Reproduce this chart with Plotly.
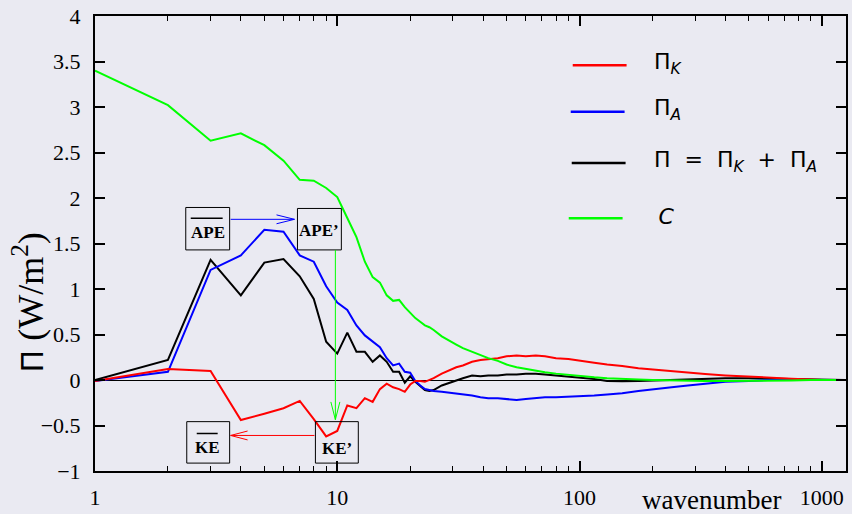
import plotly.graph_objects as go

# ---------------- data ----------------
wavenumber = [1, 2, 3, 4, 5, 6, 7, 8, 9, 10, 11, 12, 13, 14, 15, 16, 17, 18, 19, 20,
              21, 22, 23, 24, 25, 27, 29, 31, 33, 36, 39, 42, 46, 50, 55, 60, 66, 72,
              80, 90, 100, 115, 130, 150, 175, 200, 240, 280, 330, 400, 500, 600, 750,
              900, 1000, 1250]

pi_k = [-0.01, 0.12, 0.10, -0.44, -0.37, -0.31, -0.23, -0.43, -0.62, -0.56, -0.28, -0.31,
        -0.20, -0.24, -0.10, -0.04, -0.08, -0.10, -0.13, -0.05, -0.01, -0.01, -0.02, 0.0,
        0.02, 0.07, 0.11, 0.14, 0.16, 0.20, 0.22, 0.23, 0.24, 0.26, 0.27, 0.26, 0.27, 0.26,
        0.24, 0.23, 0.21, 0.19, 0.17, 0.155, 0.13, 0.115, 0.095, 0.08, 0.065, 0.05, 0.035,
        0.025, 0.015, 0.005, 0.0, 0.0]

pi_a = [-0.01, 0.09, 1.21, 1.37, 1.65, 1.63, 1.37, 1.30, 1.03, 0.85, 0.77, 0.60, 0.49,
        0.42, 0.36, 0.24, 0.16, 0.18, 0.09, 0.08, -0.01, -0.06, -0.10, -0.11, -0.12, -0.13,
        -0.14, -0.15, -0.16, -0.17, -0.19, -0.20, -0.20, -0.21, -0.22, -0.21, -0.20, -0.19,
        -0.19, -0.185, -0.18, -0.17, -0.16, -0.145, -0.12, -0.10, -0.08, -0.06, -0.04,
        -0.02, -0.01, 0.0, 0.0, 0.0, 0.0, 0.0]

pi_total = [0.0, 0.22, 1.32, 0.93, 1.29, 1.33, 1.14, 0.89, 0.42, 0.29, 0.52, 0.31, 0.31,
            0.20, 0.27, 0.20, 0.09, 0.09, -0.03, 0.04, -0.02, -0.07, -0.11, -0.12, -0.11,
            -0.06, -0.03, -0.01, 0.02, 0.05, 0.04, 0.05, 0.05, 0.06, 0.06, 0.07, 0.07, 0.06,
            0.05, 0.04, 0.03, 0.01, -0.01, -0.015, -0.01, -0.005, 0.0, 0.01, 0.015, 0.02,
            0.02, 0.015, 0.01, 0.005, 0.0, 0.0]

c_conv = [3.40, 3.02, 2.63, 2.71, 2.58, 2.41, 2.20, 2.19, 2.11, 2.01, 1.78, 1.57, 1.30,
          1.13, 1.07, 0.93, 0.87, 0.88, 0.80, 0.74, 0.68, 0.64, 0.60, 0.58, 0.55, 0.48,
          0.43, 0.39, 0.35, 0.31, 0.27, 0.24, 0.21, 0.17, 0.14, 0.12, 0.10, 0.085, 0.07,
          0.055, 0.045, 0.03, 0.02, 0.01, 0.005, 0.0, -0.005, -0.01, -0.01, -0.01, -0.01,
          -0.005, -0.005, 0.0, 0.0, 0.0]

series_names = ["Π<sub><i>K</i></sub>", "Π<sub><i>A</i></sub>",
                "Π = Π<sub><i>K</i></sub> + Π<sub><i>A</i></sub>", "<i>C</i>"]
legend_texts = ["Π<sub><i>K</i></sub>", "Π<sub><i>A</i></sub>",
                "Π\u00a0 = \u00a0Π<sub><i>K</i></sub>\u00a0 + \u00a0Π<sub><i>A</i></sub>",
                "\u2009<i>C</i>"]
series_colors = ["#ff0000", "#0000ff", "#000000", "#00ff00"]

x_tick_vals = [1, 10, 100, 1000]
x_tick_text = ["1", "10", "100", "1000"]
x_minor_vals = [2, 3, 4, 5, 6, 7, 8, 9, 20, 30, 40, 50, 60, 70, 80, 90,
                200, 300, 400, 500, 600, 700, 800, 900]
y_tick_vals = [-1, -0.5, 0, 0.5, 1, 1.5, 2, 2.5, 3, 3.5, 4]
y_tick_text = ["\u22121", "\u22120.5", "0", "0.5", "1", "1.5", "2", "2.5", "3", "3.5", "4"]

# ---------------- layout geometry ----------------
W, H = 852, 514
L, R, T, B = 95, 848, 16, 477
BG = "#EAEAF2"


def px(x):
    return (x - L) / (R - L)


def py(y):
    return (B - y) / (B - T)


fig = go.Figure()
series = [pi_total, pi_a, pi_k, c_conv]
order = [2, 1, 0, 3]
for idx, vals in zip(order, series):
    fig.add_trace(go.Scatter(x=wavenumber, y=vals, mode="lines", name=series_names[idx],
                             line=dict(color=series_colors[idx], width=2),
                             showlegend=False))

shapes = []
annotations = []


def seg(x0, y0, x1, y1, color, width=1.0):
    shapes.append(dict(type="line", xref="paper", yref="paper",
                       x0=px(x0), y0=py(y0), x1=px(x1), y1=py(y1),
                       line=dict(color=color, width=width)))


def box(x0, y0, x1, y1):
    shapes.append(dict(type="rect", xref="paper", yref="paper",
                       x0=px(x0), y0=py(y0), x1=px(x1), y1=py(y1),
                       line=dict(color="#000000", width=1), fillcolor="rgba(0,0,0,0)"))


def label(x, y, text, size=16, family="Liberation Serif", xanchor="center"):
    annotations.append(dict(xref="paper", yref="paper", x=px(x), y=py(y), text=text,
                            showarrow=False, xanchor=xanchor, yanchor="middle",
                            font=dict(family=family, size=size, color="#000000")))


# energy boxes
box(186, 210, 230, 253)
box(298, 211, 342, 253)
box(187, 427, 230, 469)
box(316, 427, 359, 469)
label(208, 235, "<b>APE</b>", size=17)
label(320, 233, "<b>APE\u2019</b>", size=17)
label(208, 453, "<b>KE</b>", size=17)
label(338, 454, "<b>KE\u2019</b>", size=17)
seg(191, 221, 223, 221, "#000000", 1.5)
seg(197, 439, 218, 439, "#000000", 1.5)

# arrows (open heads)
seg(231, 222, 295, 222, "#0000ff")
seg(295, 222, 277, 217.5, "#0000ff")
seg(295, 222, 277, 226.5, "#0000ff")
seg(336, 253, 336, 425, "#00ff00")
seg(336, 425, 331.5, 407, "#00ff00")
seg(336, 425, 340.5, 407, "#00ff00")
seg(315, 441, 231, 441, "#ff0000")
seg(231, 441, 248, 436.5, "#ff0000")
seg(231, 441, 248, 445.5, "#ff0000")

# manual legend
legend_rows = [66, 113, 165, 221]
legend_x0 = [574, 572, 573, 570]
for i, (yy, x0) in enumerate(zip(legend_rows, legend_x0)):
    seg(x0, yy, x0 + 54, yy, series_colors[i], 2.5)
    label(653, yy - 2, legend_texts[i], size=22, family="DejaVu Sans", xanchor="left")

# axis title and x label
annotations.append(dict(xref="paper", yref="paper", x=px(28), y=py(306),
                        text="<span style='font-family:DejaVu Sans;font-size:30px'>Π</span> (W/m<sup>2</sup>)",
                        showarrow=False, textangle=-90, xanchor="center", yanchor="middle",
                        font=dict(family="Liberation Serif", size=36, color="#000000")))
label(713, 506, "wavenumber", size=27)

axis_common = dict(showline=True, linecolor="#000000", linewidth=2, mirror="ticks",
                   ticks="inside", tickcolor="#000000", tickwidth=1.5, ticklen=10,
                   showgrid=False,
                   tickfont=dict(family="Liberation Serif", size=22, color="#000000"))

fig.update_layout(
    width=W, height=H, autosize=False,
    margin=dict(l=L, r=W - R, t=T, b=H - B, pad=0),
    paper_bgcolor=BG, plot_bgcolor=BG,
    shapes=shapes, annotations=annotations,
    xaxis=dict(type="log", range=[0, 3.1], tickmode="array", tickvals=x_tick_vals,
               ticktext=x_tick_text, zeroline=False, ticklabelstandoff=6,
               minor=dict(tickmode="array", tickvals=x_minor_vals, ticks="inside", ticklen=5,
                          tickwidth=1, tickcolor="#000000", showgrid=False),
               **axis_common),
    yaxis=dict(range=[-1, 4], tickmode="array", tickvals=y_tick_vals, ticktext=y_tick_text,
               zeroline=True, zerolinecolor="#000000", zerolinewidth=1,
               ticklabelstandoff=8, **axis_common),
)

fig.write_html("out.html")
